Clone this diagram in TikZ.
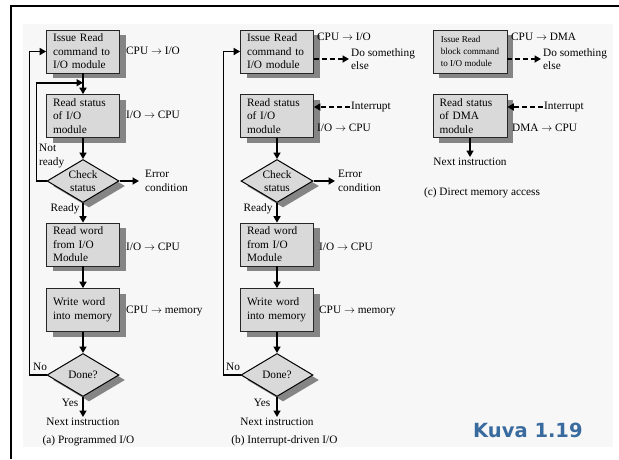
\documentclass[tikz,border=0pt]{standalone}
\usepackage{fontspec}
\setmainfont{Liberation Serif}
\newfontfamily\kuvafont{DejaVu Sans}
\usetikzlibrary{shapes.geometric,shadows,arrows.meta,calc}
\definecolor{boxfill}{HTML}{D9D9D9}
\definecolor{shadowgray}{HTML}{858585}
\definecolor{kuvablue}{HTML}{3A6B9F}
\definecolor{bggray}{HTML}{F7F7F7}
\newcommand\tfont{\fontsize{11.3}{13.5}\selectfont}
\newcommand\sfontc{\fontsize{9.1}{12}\selectfont}
\begin{document}
\begin{tikzpicture}[x=1pt,y=-1pt,
  shad/.style={drop shadow={shadow xshift=6pt,shadow yshift=-5pt,fill=shadowgray,opacity=1}},
  box/.style={draw=black!85,line width=0.7pt,fill=boxfill,minimum width=73pt,minimum height=43pt,
    align=left,inner ysep=2pt,inner xsep=6.5pt,text width=60pt,font=\tfont,shad},
  dia/.style={diamond,draw=black,line width=1pt,fill=boxfill,shape aspect=1.67,inner sep=0pt,
    minimum width=72pt,minimum height=43pt,align=center,font=\tfont,shad},
  lbl/.style={inner sep=1pt,font=\tfont,align=left},
  arr/.style={line width=1.6pt,-{Triangle[length=6.5pt,width=7pt]}},
  darr/.style={arr,dash pattern=on 5pt off 3pt},
]
\useasboundingbox (0,0) rectangle (619,459);
\fill[bggray] (23,24) rectangle (613,447);
\draw[line width=2.5pt] (619,6) -- (11,6) -- (11,459);

% ---------- (a) Programmed I/O ----------
\node[box] (a1) at (83,51.5) {Issue Read\\command to\\I/O module};
\node[box] (a2) at (83,116) {Read status\\of I/O\\module};
\node[dia] (a3) at (83,181) {Check\\status};
\node[box] (a4) at (83,244.5) {Read word\\from I/O\\Module};
\node[box] (a5) at (83,310) {Write word\\into memory};
\node[dia] (a6) at (83,375) {Done?};
\node[lbl,anchor=north] (a7) at (83,417) {Next instruction};
\node[lbl] (a8) at (88.5,441) {(a) Programmed I/O};

\node[lbl,anchor=west] (a1l) at (125,51) {CPU $\rightarrow$ I/O};
\node[lbl,anchor=west] (a2l) at (125,115) {I/O $\rightarrow$ CPU};
\node[lbl,anchor=west] (a3e) at (144,181) {Error\\condition};
\node[lbl,anchor=west] (a3n) at (38,156) {Not\\ready};
\node[lbl] (a3r) at (65,209) {Ready};
\node[lbl,anchor=west] (a4l) at (125,247) {I/O $\rightarrow$ CPU};
\node[lbl,anchor=west] (a5l) at (125,311) {CPU $\rightarrow$ memory};
\node[lbl] (a6n) at (40,367) {No};
\node[lbl] (a6y) at (70,403) {Yes};

\draw[arr] (a1) -- (a2);
\draw[arr] (a2) -- (a3);
\draw[arr] (a3) -- (a4);
\draw[arr] (a4) -- (a5);
\draw[arr] (a5) -- (a6);
\draw[arr] (a6) -- (a7);
\draw[arr,shorten >=5pt] (a3.east) -- (a3e.west);
\draw[arr] (a3.west) -- ++(-10,0) |- ($(a1.south)!0.45!(a2.north)$);
\draw[arr] (a6.west) -- ++(-17,0) |- (a1.west);

% ---------- (b) Interrupt-driven I/O ----------
\node[box] (b1) at (277,51.5) {Issue Read\\command to\\I/O module};
\node[box] (b2) at (277,116) {Read status\\of I/O\\module};
\node[dia] (b3) at (277,181) {Check\\status};
\node[box] (b4) at (277,244.5) {Read word\\from I/O\\Module};
\node[box] (b5) at (277,310) {Write word\\into memory};
\node[dia] (b6) at (277,375) {Done?};
\node[lbl,anchor=north] (b7) at (277,417) {Next instruction};
\node[lbl] (b8) at (284.5,441) {(b) Interrupt-driven I/O};

\node[lbl,anchor=west] (b1l) at (316,37) {CPU $\rightarrow$ I/O};
\node[lbl,anchor=west] (b1d) at (350,59) {Do something\\else};
\node[lbl,anchor=west] (b2i) at (350,107) {Interrupt};
\node[lbl,anchor=west] (b2l) at (316,128) {I/O $\rightarrow$ CPU};
\node[lbl,anchor=west] (b3e) at (337,181) {Error\\condition};
\node[lbl] (b3r) at (258,209) {Ready};
\node[lbl,anchor=west] (b4l) at (318,247) {I/O $\rightarrow$ CPU};
\node[lbl,anchor=west] (b5l) at (318,311) {CPU $\rightarrow$ memory};
\node[lbl] (b6n) at (233,367) {No};
\node[lbl] (b6y) at (262,403) {Yes};

\draw[darr,shorten >=1pt] (b1.east |- b1d.west) -- (b1d.west);
\draw[darr] (b2i.west) -- (b2.east |- b2i.west);
\draw[arr] (b2) -- (b3);
\draw[arr] (b3) -- (b4);
\draw[arr] (b4) -- (b5);
\draw[arr] (b5) -- (b6);
\draw[arr] (b6) -- (b7);
\draw[arr,shorten >=2pt] (b3.east) -- (b3e.west);
\draw[arr] (b6.west) -- ++(-17,0) |- (b1.west);

% ---------- (c) Direct memory access ----------
\node[box,text width=,inner xsep=2pt,minimum width=74pt,font=\sfontc] (c1) at (470,51.5) {Issue Read\\block command\\to I/O module};
\node[box,text width=61pt,inner xsep=6.5pt,minimum width=74pt] (c2) at (470,116) {Read status\\of DMA\\module};
\node[lbl,anchor=north] (c3) at (470,157) {Next instruction};
\node[lbl] (c4) at (482,193) {(c) Direct memory access};

\node[lbl,anchor=west] (c1l) at (510,37) {CPU $\rightarrow$ DMA};
\node[lbl,anchor=west] (c1d) at (542,59) {Do something\\else};
\node[lbl,anchor=west] (c2i) at (543,107) {Interrupt};
\node[lbl,anchor=west] (c2l) at (511,128) {DMA $\rightarrow$ CPU};

\draw[darr,shorten >=1pt] (c1.east |- c1d.west) -- (c1d.west);
\draw[darr] (c2i.west) -- (c2.east |- c2i.west);
\draw[arr] (c2) -- (c3);

\node[anchor=base west,inner sep=0pt,text=kuvablue,
  font={\kuvafont\bfseries\fontsize{19.5}{22}\selectfont}] (kuva) at (473,437) {Kuva 1.19};
\end{tikzpicture}
\end{document}
